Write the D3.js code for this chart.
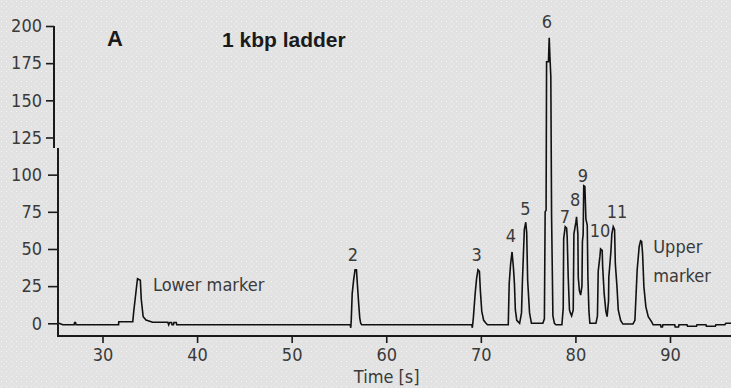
<!DOCTYPE html>
<html><head><meta charset="utf-8">
<script src="https://cdn.jsdelivr.net/npm/d3@7"></script>
<style>
html,body{margin:0;padding:0;background:#e3e3e3;}
svg{display:block;}
text{font-family:"Liberation Sans Narrow","DejaVu Sans Condensed","Arial Narrow",sans-serif;}
</style></head>
<body><svg id="c" width="731" height="388"></svg>
<script>
// ---- data ----
const timeS = [25.4,25.8,27.0,27.05,27.15,27.2,31.7,31.72,33.2,33.3,33.6,33.7,34.0,34.1,34.3,34.6,35.3,36.9,37.0,37.1,37.3,37.35,37.5,37.55,37.8,37.85,
 56.2,56.25,56.3,56.4,56.55,56.7,56.85,56.95,57.1,57.2,57.3,57.4,
 69.05,69.1,69.2,69.4,69.55,69.7,69.85,69.95,70.1,70.3,70.55,70.7,
 72.9,73.0,73.15,73.3,73.45,73.55,73.65,73.8,74.1,
 74.3,74.4,74.6,74.75,74.85,74.95,75.15,75.35,76.56,
 76.72,76.8,76.9,76.95,77.15,77.23,77.3,77.4,77.48,77.62,77.78,77.94,78.26,
 78.57,78.71,78.76,78.92,79.07,79.13,79.24,79.37,79.47,79.6,
 79.77,79.84,80.05,80.12,80.26,80.3,80.42,80.55,
 80.69,80.74,80.82,80.88,81.0,81.11,81.25,81.32,81.43,81.53,82.17,
 82.33,82.41,82.59,82.66,82.83,82.88,83.04,83.22,83.35,
 83.5,83.53,83.75,83.85,84.0,84.14,84.22,84.39,84.53,84.78,85.02,86.08,
 86.29,86.53,86.74,86.89,87.0,87.1,87.24,87.45,87.7,88.06,88.22,
 89.0,89.05,89.2,89.25,90.5,90.55,90.9,90.95,91.8,91.85,92.8,92.85,93.8,93.85,94.8,94.85,95.8,95.9,96.5];
const signal = [0,-1,-1,0.5,0.5,-1,-1,1,1,7.8,24.6,30,29,16,4.4,2.2,0.7,0.7,-1,0.5,0.5,-1,-1,0.5,0.5,-1,
 -1,-3,2,20,29,36,36,26,12,3.5,0,-1,
 -1,-3,3,20,30,36,35,22,8,2,0,-1,
 -1,27,40,48,37,27,9,2,0,
 7,29,63,68,61,29,7,0,0,
 3,75,76,176,176,192,180,166,72,5,0,-1,-1,
 -1,10,57,65,64,58,31,9,7,5,
 9,60,68,71.6,60,31,22,19,
 25,55,60,92.5,92,70,66,31,8,0,0,
 5,35,45,50,49,38,20,8,4.5,
 15,31,48,60,65,63,40,25,9,2,-0.5,-0.5,
 2,36,51.5,55.5,55,47,24.6,11,4.5,1,-1,
 -1,-2.5,-2.5,-1,-1,-2.5,-2.5,-1,-1,-2,-2,-1,-1,-2,-2,-1,-1,0,0];

const xTicks = [30,40,50,60,70,80,90];
const yTicksUpper = [125,150,175,200];
const yTicksLower = [0,25,50,75,100];
const peakLabels = ["2","3","4","5","6","7","8","9","10","11"];
const peakLabelT = [56.47,69.56,73.18,74.7,76.99,78.9,79.96,80.8,82.6,84.4];
const peakLabelV = [41.9,41.9,54.7,72.9,198.5,67.3,78.9,95.3,58,70.8];
const xTitle = "Time [s]";
const panelLetter = "A";
const chartTitle = "1 kbp ladder";

// ---- chart ----
const svg = d3.select("#c");
const defs = svg.append("defs");
const pat = defs.append("pattern").attr("id","dots").attr("width",5).attr("height",5).attr("patternUnits","userSpaceOnUse");
pat.append("rect").attr("width",5).attr("height",5).attr("fill","#e2e2e2");
pat.append("rect").attr("x",1).attr("y",1).attr("width",1).attr("height",1).attr("fill","#f6f6f6");
pat.append("rect").attr("x",3.5).attr("y",3.5).attr("width",1).attr("height",1).attr("fill","#f0f0f0");
svg.append("rect").attr("width",731).attr("height",388).attr("fill","url(#dots)");

const x = d3.scaleLinear().domain([30,90]).range([102.5,670]);
const y = d3.scaleLinear().domain([0,200]).range([323.3,26]);

const axisColor = "#1a1a1a", labelColor = "#3a3a3a";

// x axis
const gx = svg.append("g").attr("transform","translate(0,336)")
  .call(d3.axisBottom(x).tickValues(xTicks).tickSize(7).tickPadding(5).tickFormat(d3.format("d")));
gx.select(".domain").remove();
gx.selectAll(".tick line").attr("stroke",axisColor).attr("stroke-width",1.6);
gx.selectAll(".tick text").attr("fill",labelColor).style("font-size","18px");
svg.append("line").attr("x1",57).attr("x2",731).attr("y1",336).attr("y2",336).attr("stroke",axisColor).attr("stroke-width",2);

// y axis (two parts, as in the scanned figure)
const gyU = svg.append("g").attr("transform","translate(54,0)")
  .call(d3.axisLeft(y).tickValues(yTicksUpper).tickSize(8).tickPadding(4));
const gyL = svg.append("g").attr("transform","translate(58,0)")
  .call(d3.axisLeft(y).tickValues(yTicksLower).tickSize(10).tickPadding(6));
[gyU,gyL].forEach(g=>{
  g.select(".domain").remove();
  g.selectAll(".tick line").attr("stroke",axisColor).attr("stroke-width",1.6);
  g.selectAll(".tick text").attr("fill",labelColor).style("font-size","18px");
});
svg.append("line").attr("x1",54).attr("x2",54).attr("y1",y(200)).attr("y2",148).attr("stroke",axisColor).attr("stroke-width",2);
svg.append("line").attr("x1",58).attr("x2",58).attr("y1",148).attr("y2",337).attr("stroke",axisColor).attr("stroke-width",2);

// trace
const pts = timeS.map((t,i)=>[t,signal[i]]);
svg.append("path").datum(pts)
  .attr("fill","none").attr("stroke","#111").attr("stroke-width",1.6).attr("stroke-linejoin","miter")
  .attr("d", d3.line().x(d=>x(d[0])).y(d=>y(d[1])));

// peak labels
svg.selectAll("text.pk").data(peakLabels).join("text").attr("class","pk")
  .attr("x",(d,i)=>x(peakLabelT[i])).attr("y",(d,i)=>y(peakLabelV[i]))
  .attr("text-anchor","middle").attr("fill",labelColor).style("font-size","18px").text(d=>d);

svg.append("text").attr("x",x(35.34)).attr("y",y(21.7)).attr("fill",labelColor).style("font-size","18px").text("Lower marker");
svg.append("text").attr("x",x(88.23)).attr("y",y(47.1)).attr("fill",labelColor).style("font-size","18px").text("Upper");
svg.append("text").attr("x",x(88.23)).attr("y",y(28)).attr("fill",labelColor).style("font-size","18px").text("marker");

svg.append("text").attr("x",x(30.48)).attr("y",y(186.6)).attr("fill","#1a1a1a")
  .style("font-family","'Liberation Sans',Arial,sans-serif").style("font-weight","bold").style("font-size","22px").text(panelLetter);
svg.append("text").attr("x",x(42.63)).attr("y",y(185.9)).attr("fill","#1a1a1a")
  .style("font-family","'Liberation Sans',Arial,sans-serif").style("font-weight","bold").style("font-size","21px").text(chartTitle);

svg.append("text").attr("x",386.7).attr("y",383).attr("text-anchor","middle").attr("fill",labelColor).style("font-size","18px").text(xTitle);
</script></body></html>
